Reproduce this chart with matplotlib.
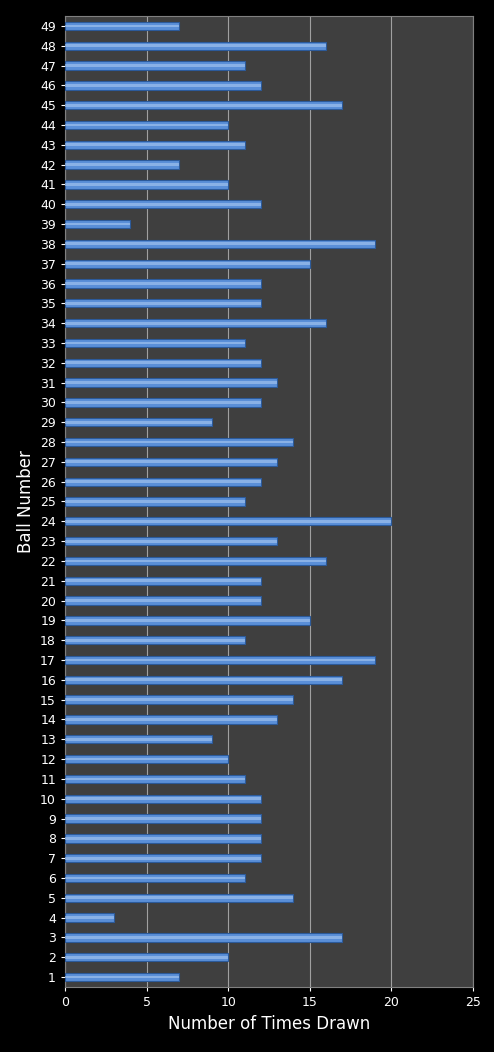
import matplotlib
matplotlib.use("Agg")
import matplotlib.pyplot as plt
import numpy as np

balls = list(range(1, 50))
counts = [7,10,17,3,14,11,12,12,12,12,11,10,9,13,14,17,19,11,15,12,
          12,16,13,20,11,12,13,14,9,12,13,12,11,16,12,12,15,19,4,12,
          10,7,11,10,17,12,11,16,7]
xticks = [0,5,10,15,20,25]

fig = plt.figure(figsize=(4.94,10.52), dpi=100, facecolor='black')
ax = fig.add_axes([0.1316,0.0618,0.8259,0.9230])
ax.set_facecolor('#3f3f3f')
ax.barh(balls, counts, height=0.42, color='#5a8fd8', edgecolor='#2c5a9a', linewidth=0.8, zorder=3)
# highlight stripe for gradient look
ax.barh(balls, counts, height=0.14, left=0, color='#a9c8f0', linewidth=0, zorder=4, alpha=0.6)
ax.set_xlim(0,25)
ax.set_ylim(0.5,49.5)
ax.set_xticks(xticks)
ax.set_yticks(balls)
ax.grid(axis='x', color='#a0a0a0', linewidth=0.8, zorder=0)
ax.tick_params(colors='white', labelsize=9, length=3)
for s in ax.spines.values():
    s.set_color('#808080')
ax.set_xlabel('Number of Times Drawn', color='white', fontsize=12)
ax.set_ylabel('Ball Number', color='white', fontsize=12)
fig.savefig('out.png', dpi=100, facecolor='black')
